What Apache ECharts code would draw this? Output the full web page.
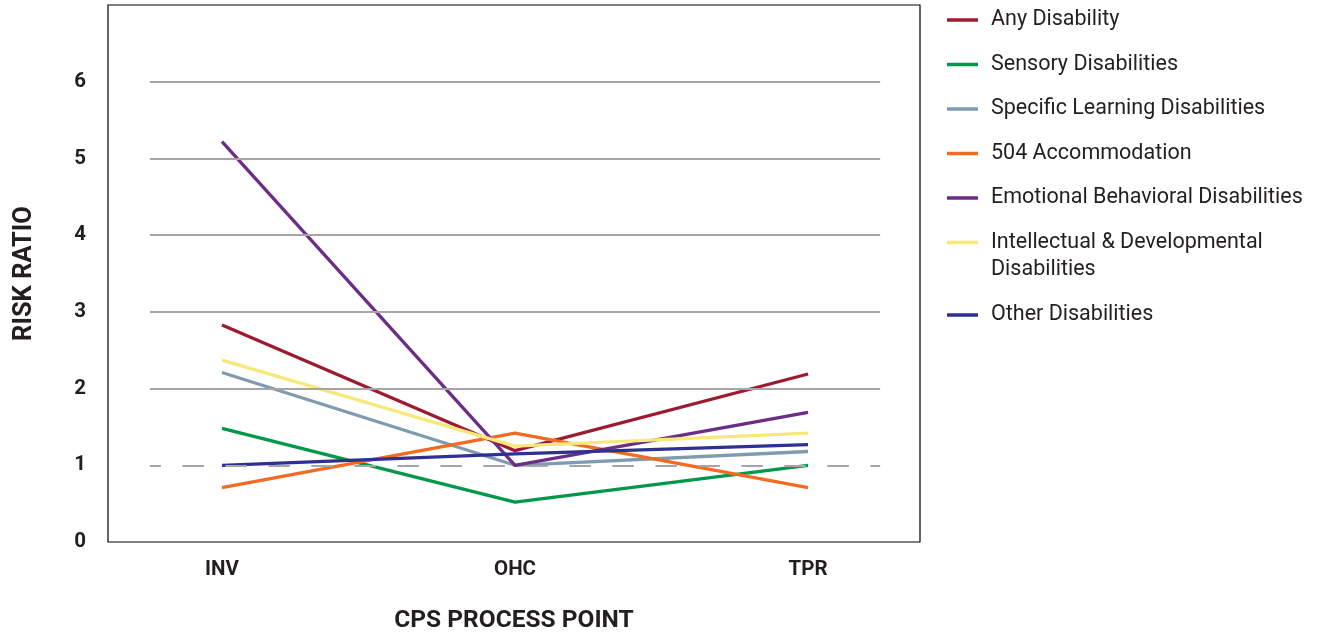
<!DOCTYPE html>
<html>
<head>
<meta charset="utf-8">
<script src="https://cdn.jsdelivr.net/npm/echarts@6/dist/echarts.min.js"></script>
<style>
html,body{margin:0;padding:0;background:#fff;}
#chart{width:1325px;height:634px;}
</style>
</head>
<body>
<div id="chart"></div>
<script>
// ---- data ----
const categories = ['INV', 'OHC', 'TPR'];
const yTicks = [0, 1, 2, 3, 4, 5, 6];
const gridLineValues = [2, 3, 4, 5, 6];
const referenceValue = 1;

const seriesNames = [
  'Any Disability',
  'Sensory Disabilities',
  'Specific Learning Disabilities',
  '504 Accommodation',
  'Emotional Behavioral Disabilities',
  'Intellectual & Developmental Disabilities',
  'Other Disabilities'
];
const anyDisability = [2.83, 1.19, 2.19];
const sensoryDisabilities = [1.48, 0.52, 1.0];
const specificLearning = [2.21, 1.0, 1.18];
const accommodation504 = [0.71, 1.42, 0.71];
const emotionalBehavioral = [5.22, 1.0, 1.69];
const intellectualDevelopmental = [2.37, 1.25, 1.42];
const otherDisabilities = [1.0, 1.15, 1.27];

const seriesValues = [anyDisability, sensoryDisabilities, specificLearning, accommodation504,
  emotionalBehavioral, intellectualDevelopmental, otherDisabilities];
const seriesColors = ['#9b1b30', '#00984a', '#7f9bb0', '#f26b21', '#6b2d87', '#f7e87a', '#2e3192'];

// ---- chart ----
const chart = echarts.init(document.getElementById('chart'), null, {renderer: 'canvas'});
const FONT_BOLD = "Roboto, 'Noto Sans', sans-serif";
const FONT = "Roboto, 'Noto Sans', sans-serif";
const GRID_COLOR = '#a7a5a6';
const TEXT_COLOR = '#231f20';
const lineExtent = [-0.246, 2.246];

const series = seriesNames.map((name, i) => ({
  name: name,
  type: 'line',
  symbol: 'none',
  data: seriesValues[i].map((v, j) => [j, v]),
  lineStyle: {width: 3.3, color: seriesColors[i]},
  itemStyle: {color: seriesColors[i]},
  z: 3,
  animation: false
}));

series.unshift({
  name: 'gridlines',
  type: 'line',
  data: [],
  silent: true,
  z: 1,
  markLine: {
    silent: true,
    symbol: 'none',
    label: {show: false},
    animation: false,
    data: gridLineValues.map(v => [
      {coord: [lineExtent[0], v], lineStyle: {color: GRID_COLOR, width: 2, type: 'solid'}},
      {coord: [lineExtent[1], v]}
    ]).concat([[
      {coord: [lineExtent[0], referenceValue], lineStyle: {color: GRID_COLOR, width: 2, type: [21.5, 21.5], dashOffset: 10.5}},
      {coord: [lineExtent[1], referenceValue]}
    ]])
  }
});

const legendLabel = {
  'Intellectual & Developmental Disabilities': 'Intellectual & Developmental'
};
const legendText = {
  fontFamily: FONT, fontSize: 21.5, color: TEXT_COLOR, lineHeight: 27, padding: [0, 0, 0, 8]
};

const option = {
  backgroundColor: '#fff',
  animation: false,
  grid: {
    left: 108, top: 5, width: 812, height: 537,
    outerBoundsMode: 'none',
    containLabel: false,
    show: true, borderColor: '#000', borderWidth: 1.2, backgroundColor: 'transparent'
  },
  xAxis: {
    type: 'value',
    min: -0.389, max: 2.382,
    axisLine: {show: false},
    axisTick: {show: false},
    splitLine: {show: false},
    axisLabel: {
      customValues: [0, 1, 2],
      formatter: v => categories[Math.round(v)],
      fontFamily: FONT_BOLD, fontWeight: 'bold', fontSize: 20.5, color: TEXT_COLOR, margin: 17
    },
    name: 'CPS PROCESS POINT',
    nameLocation: 'middle',
    nameGap: 66,
    nameTextStyle: {fontFamily: FONT_BOLD, fontWeight: 'bold', fontSize: 24.5, color: TEXT_COLOR}
  },
  yAxis: {
    type: 'value',
    min: 0, max: 7, interval: 1,
    axisLine: {show: false},
    axisTick: {show: false},
    splitLine: {show: false},
    axisLabel: {
      customValues: yTicks,
      fontFamily: FONT_BOLD, fontWeight: 'bold', fontSize: 20.5, color: TEXT_COLOR, margin: 22
    },
    name: 'RISK RATIO',
    nameLocation: 'middle',
    nameRotate: 90,
    nameGap: 70,
    nameTextStyle: {fontFamily: FONT_BOLD, fontWeight: 'bold', fontSize: 25.5, color: TEXT_COLOR}
  },
  legend: [
    {
      orient: 'vertical',
      left: 947, top: 6.5, padding: 0,
      itemGap: 17.5, itemWidth: 31, itemHeight: 3.5,
      icon: 'rect',
      data: seriesNames.slice(0, 6),
      formatter: n => legendLabel[n] || n,
      textStyle: legendText,
      selectedMode: false
    },
    {
      orient: 'vertical',
      left: 947, top: 301.5, padding: 0,
      itemWidth: 31, itemHeight: 3.5,
      icon: 'rect',
      data: seriesNames.slice(6),
      textStyle: legendText,
      selectedMode: false
    }
  ],
  graphic: [{
    type: 'text',
    x: 991, y: 269.5,
    style: {text: 'Disabilities', font: "21.5px Roboto, 'Noto Sans', sans-serif", fill: TEXT_COLOR, verticalAlign: 'middle'}
  }],
  series: series
};
chart.setOption(option);
</script>
</body>
</html>
